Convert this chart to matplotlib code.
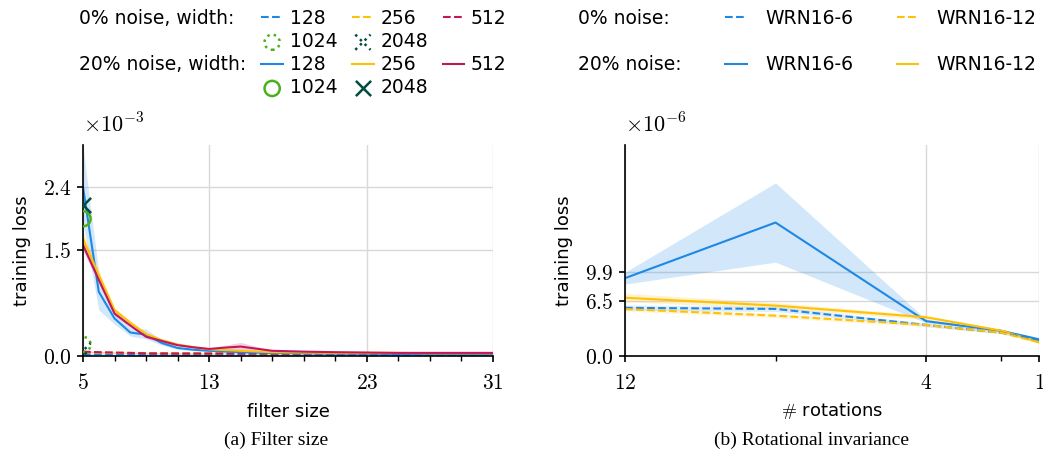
import matplotlib
matplotlib.use('Agg')
import matplotlib.pyplot as plt
from matplotlib.lines import Line2D
import numpy as np

plt.rcParams['mathtext.fontset'] = 'cm'
plt.rcParams['font.family'] = ['DejaVu Sans']

# ---------------- data: (a) filter size (values x 1e-3) ----------------
filter_sizes = [5, 6, 7, 8, 9, 10, 11, 12, 13, 14, 15, 16, 17, 19, 21, 23, 25, 27, 29, 31]

noisy_128 = [2.40, 0.91, 0.53, 0.33, 0.30, 0.18, 0.11, 0.085, 0.07, 0.06, 0.05, 0.045, 0.04, 0.035, 0.03, 0.03, 0.025, 0.025, 0.02, 0.02]
noisy_128_lo = [1.90, 0.65, 0.45, 0.28, 0.24, 0.15, 0.09, 0.07, 0.06, 0.05, 0.04, 0.035, 0.03, 0.03, 0.025, 0.025, 0.02, 0.02, 0.015, 0.015]
noisy_128_hi = [2.97, 1.18, 0.62, 0.40, 0.38, 0.22, 0.13, 0.10, 0.08, 0.07, 0.06, 0.055, 0.05, 0.04, 0.035, 0.035, 0.03, 0.03, 0.025, 0.025]

noisy_256 = [1.67, 1.15, 0.65, 0.47, 0.31, 0.22, 0.16, 0.12, 0.09, 0.08, 0.07, 0.06, 0.05, 0.045, 0.04, 0.04, 0.04, 0.035, 0.035, 0.035]
noisy_256_lo = [1.58, 1.08, 0.61, 0.44, 0.29, 0.20, 0.15, 0.11, 0.08, 0.07, 0.06, 0.05, 0.045, 0.04, 0.035, 0.035, 0.035, 0.03, 0.03, 0.03]
noisy_256_hi = [1.76, 1.22, 0.69, 0.50, 0.33, 0.24, 0.17, 0.13, 0.10, 0.09, 0.08, 0.07, 0.055, 0.05, 0.045, 0.045, 0.045, 0.04, 0.04, 0.04]

noisy_512 = [1.575, 1.08, 0.60, 0.43, 0.27, 0.21, 0.15, 0.12, 0.096, 0.115, 0.13, 0.10, 0.07, 0.058, 0.05, 0.045, 0.04, 0.04, 0.04, 0.04]
noisy_512_lo = [1.50, 1.03, 0.57, 0.41, 0.25, 0.19, 0.14, 0.11, 0.085, 0.09, 0.08, 0.08, 0.06, 0.05, 0.045, 0.04, 0.035, 0.035, 0.035, 0.035]
noisy_512_hi = [1.65, 1.13, 0.63, 0.45, 0.29, 0.23, 0.16, 0.13, 0.11, 0.15, 0.19, 0.13, 0.08, 0.065, 0.055, 0.05, 0.045, 0.045, 0.045, 0.045]

clean_128 = [0.02, 0.02, 0.018, 0.017, 0.016, 0.015, 0.015, 0.014, 0.014, 0.013, 0.013, 0.013, 0.012, 0.012, 0.012, 0.012, 0.012, 0.012, 0.012, 0.012]
clean_256 = [0.05, 0.045, 0.042, 0.04, 0.038, 0.037, 0.036, 0.035, 0.035, 0.034, 0.034, 0.034, 0.033, 0.033, 0.033, 0.033, 0.033, 0.033, 0.033, 0.033]
clean_512 = [0.058, 0.05, 0.045, 0.04, 0.034, 0.033, 0.032, 0.032, 0.031, 0.031, 0.031, 0.031, 0.03, 0.03, 0.03, 0.03, 0.03, 0.03, 0.03, 0.03]
clean_band = [0.012, 0.011, 0.010, 0.010, 0.010, 0.009, 0.009, 0.009, 0.009, 0.008, 0.008, 0.008, 0.008, 0.008, 0.008, 0.008, 0.008, 0.008, 0.008, 0.008]

wide_x = [5]
noisy_1024 = [1.95]
noisy_2048 = [2.14]
clean_1024 = [0.16]
clean_2048 = [0.07]

left_yticks = [0.0, 1.5, 2.4]
left_xticks = [5, 13, 23, 31]
left_xminor = [7, 9, 11, 15, 17, 19, 21, 25, 27, 29]

# ---------------- data: (b) rotations (values x 1e-6) ----------------
rotations = [12, 8, 4, 2, 1]
wrn6_noisy = [9.2, 15.8, 4.1, 2.95, 1.95]
wrn6_noisy_lo = [8.5, 11.1, 3.9, 2.8, 1.85]
wrn6_noisy_hi = [9.9, 20.5, 4.3, 3.1, 2.05]
wrn12_noisy = [6.88, 5.94, 4.56, 2.97, 1.59]
wrn12_noisy_lo = [6.4, 5.6, 4.3, 2.85, 1.5]
wrn12_noisy_hi = [7.4, 6.3, 4.8, 3.1, 1.7]
wrn6_clean = [5.68, 5.55, 3.65, 2.73, 1.86]
wrn6_clean_lo = [5.4, 5.25, 3.45, 2.6, 1.76]
wrn6_clean_hi = [6.0, 5.85, 3.85, 2.86, 1.96]
wrn12_clean = [5.53, 4.75, 3.65, 2.73, 1.59]
wrn12_clean_lo = [5.3, 4.5, 3.45, 2.6, 1.5]
wrn12_clean_hi = [5.8, 5.0, 3.85, 2.86, 1.7]

right_yticks = [0.0, 6.5, 9.9]
right_xticks = [12, 4, 1]
right_xminor = [8, 2]

BLUE = '#1E88E5'
YELLOW = '#FFC107'
RED = '#C2185B'
GREEN = '#4CB01A'
DGREEN = '#004D40'

fig = plt.figure(figsize=(10.43, 4.69), dpi=100)
axL = fig.add_axes([83 / 1043, 1 - 355.7 / 469, 410 / 1043, 210.7 / 469])
axR = fig.add_axes([625 / 1043, 1 - 355.7 / 469, 414 / 1043, 210.7 / 469])

LW = 1.5
TICKFS = 15.5
LABFS = 13


def style(ax):
    for s in ['top', 'right']:
        ax.spines[s].set_visible(False)
    for s in ['left', 'bottom']:
        ax.spines[s].set_linewidth(1.2)
    ax.tick_params(which='major', length=4.5, width=1.2, direction='out')
    ax.tick_params(axis='x', which='major', pad=8)
    ax.tick_params(which='minor', length=3.5, width=1.0, direction='out')
    ax.grid(True, which='major', color='#d9d9d9', linewidth=1.0)
    ax.set_axisbelow(True)


# ---- left ----
fs = np.array(filter_sizes)
sc = 1e-3
axL.fill_between(fs, np.array(noisy_128_lo) * sc, np.array(noisy_128_hi) * sc, color=BLUE, alpha=0.2, lw=0)
axL.fill_between(fs, np.array(noisy_256_lo) * sc, np.array(noisy_256_hi) * sc, color=YELLOW, alpha=0.2, lw=0)
axL.fill_between(fs, np.array(noisy_512_lo) * sc, np.array(noisy_512_hi) * sc, color=RED, alpha=0.2, lw=0)
for vals, col in [(clean_128, BLUE), (clean_256, YELLOW), (clean_512, RED)]:
    v = np.array(vals)
    axL.fill_between(fs, (v - np.array(clean_band)) * sc, (v + np.array(clean_band)) * sc, color=col, alpha=0.2, lw=0)

l128c, = axL.plot(fs, np.array(clean_128) * sc, '--', color=BLUE, lw=LW)
l256c, = axL.plot(fs, np.array(clean_256) * sc, '--', color=YELLOW, lw=LW)
l512c, = axL.plot(fs, np.array(clean_512) * sc, '--', color=RED, lw=LW)
l128n, = axL.plot(fs, np.array(noisy_128) * sc, '-', color=BLUE, lw=LW)
l256n, = axL.plot(fs, np.array(noisy_256) * sc, '-', color=YELLOW, lw=LW)
l512n, = axL.plot(fs, np.array(noisy_512) * sc, '-', color=RED, lw=LW)

MS = 120
s1024c = axL.scatter(wide_x, np.array(clean_1024) * sc, s=MS, marker='o', facecolors='none', edgecolors=GREEN, linewidths=1.8, linestyle=':', zorder=5)
s2048c = axL.scatter(wide_x, np.array(clean_2048) * sc, s=MS, marker='x', color=DGREEN, linewidths=1.8, linestyle=':', zorder=5)
s1024n = axL.scatter(wide_x, np.array(noisy_1024) * sc, s=MS, marker='o', facecolors='none', edgecolors=GREEN, linewidths=1.8, zorder=5)
s2048n = axL.scatter(wide_x, np.array(noisy_2048) * sc, s=MS, marker='x', color=DGREEN, linewidths=1.8, zorder=5)

axL.set_xlim(5, 31)
axL.set_ylim(0, 3.0e-3)
axL.set_xticks(left_xticks)
axL.set_xticklabels([r'$%d$' % t for t in left_xticks], fontsize=TICKFS)
axL.set_xticks(left_xminor, minor=True)
axL.set_yticks(np.array(left_yticks) * sc)
axL.set_yticklabels([r'$%.1f$' % t for t in left_yticks], fontsize=TICKFS)
axL.set_xlabel('filter size', fontsize=LABFS, labelpad=7)
axL.set_ylabel('training loss', fontsize=LABFS, labelpad=9)
style(axL)
axL.text(0.0, 1.04, r'$\times10^{-3}$', transform=axL.transAxes, fontsize=TICKFS + 0.5, ha='left', va='bottom')

# ---- right ----
rx = np.array(rotations)
sr = 1e-6
axR.fill_between(rx, np.array(wrn6_noisy_lo) * sr, np.array(wrn6_noisy_hi) * sr, color=BLUE, alpha=0.2, lw=0)
axR.fill_between(rx, np.array(wrn12_noisy_lo) * sr, np.array(wrn12_noisy_hi) * sr, color=YELLOW, alpha=0.2, lw=0)
axR.fill_between(rx, np.array(wrn6_clean_lo) * sr, np.array(wrn6_clean_hi) * sr, color=BLUE, alpha=0.15, lw=0)
axR.fill_between(rx, np.array(wrn12_clean_lo) * sr, np.array(wrn12_clean_hi) * sr, color=YELLOW, alpha=0.15, lw=0)
r6n, = axR.plot(rx, np.array(wrn6_noisy) * sr, '-', color=BLUE, lw=LW)
r12n, = axR.plot(rx, np.array(wrn12_noisy) * sr, '-', color=YELLOW, lw=LW)
r6c, = axR.plot(rx, np.array(wrn6_clean) * sr, '--', color=BLUE, lw=LW)
r12c, = axR.plot(rx, np.array(wrn12_clean) * sr, '--', color=YELLOW, lw=LW)

axR.set_xlim(12, 1)
axR.set_ylim(0, 25e-6)
axR.set_xticks(right_xticks)
axR.set_xticklabels([r'$%d$' % t for t in right_xticks], fontsize=TICKFS)
axR.set_xticks(right_xminor, minor=True)
axR.set_yticks(np.array(right_yticks) * sr)
axR.set_yticklabels([r'$%.1f$' % t for t in right_yticks], fontsize=TICKFS)
axR.set_xlabel(r'$\#$ rotations', fontsize=LABFS, labelpad=5)
axR.set_ylabel('training loss', fontsize=LABFS, labelpad=9)
style(axR)
axR.text(0.0, 1.04, r'$\times10^{-6}$', transform=axR.transAxes, fontsize=TICKFS + 0.5, ha='left', va='bottom')

# ---- legends ----
def empty():
    return Line2D([], [], linestyle='none')

LEGFS = 13.5
hL = [empty(), empty(), empty(), empty(),
      l128c, s1024c, l128n, s1024n,
      l256c, s2048c, l256n, s2048n,
      l512c, empty(), l512n, empty()]
labL = ['0% noise, width:', '', '20% noise, width:', '',
        '128', '1024', '128', '1024',
        '256', '2048', '256', '2048',
        '512', '', '512', '']
fig.legend(hL, labL, ncol=4, loc='upper left', bbox_to_anchor=(51 / 1043, 1 - 9 / 469),
           frameon=False, fontsize=LEGFS, handlelength=1.15, handletextpad=0.35,
           columnspacing=0.8, labelspacing=0.22, borderpad=0, borderaxespad=0,
           scatterpoints=1)

hR = [empty(), empty(), empty(),
      r6c, empty(), r6n,
      r12c, empty(), r12n]
labR = ['0% noise:', '', '20% noise:',
        'WRN16-6', '', 'WRN16-6',
        'WRN16-12', '', 'WRN16-12']
fig.legend(hR, labR, ncol=3, loc='upper left', bbox_to_anchor=(538 / 1043, 1 - 9 / 469),
           frameon=False, fontsize=LEGFS, handlelength=1.15, handletextpad=1.0,
           columnspacing=2.3, labelspacing=0.22, borderpad=0, borderaxespad=0)

# ---- captions ----
fig.text(276 / 1043, 1 - 440 / 469, '(a) Filter size', fontsize=14, family='Liberation Serif', ha='center', va='center')
fig.text(812 / 1043, 1 - 440 / 469, '(b) Rotational invariance', fontsize=14, family='Liberation Serif', ha='center', va='center')

fig.savefig('out.png', dpi=100)
